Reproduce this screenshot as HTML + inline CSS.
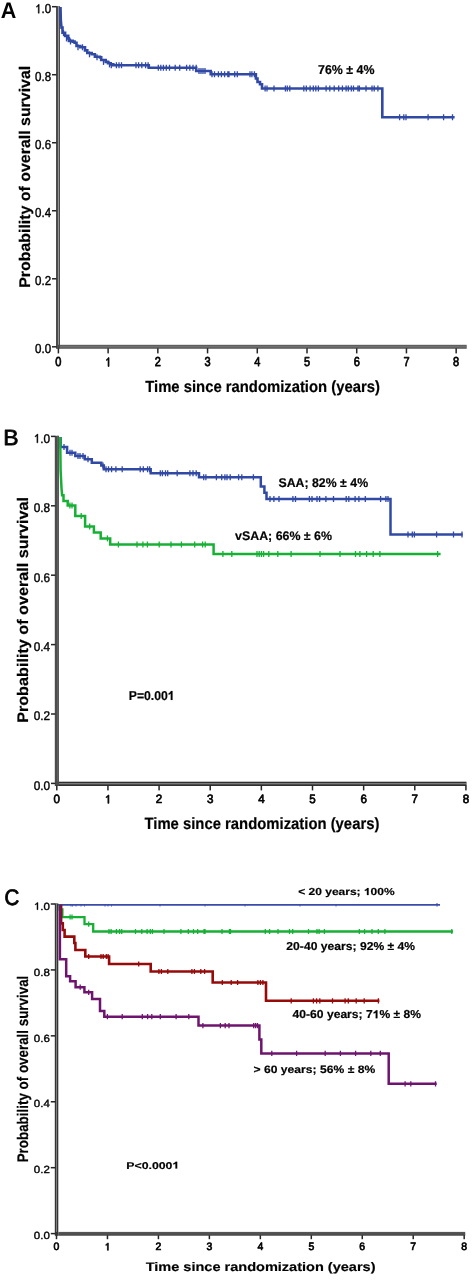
<!DOCTYPE html>
<html><head><meta charset="utf-8"><style>
html,body{margin:0;padding:0;background:#fff;}
svg{display:block;filter:blur(0.3px);}
text{font-family:"Liberation Sans",sans-serif;font-size:100px;text-rendering:geometricPrecision;}
</style></head><body>
<svg width="473" height="1280" viewBox="0 0 473 1280">
<rect width="473" height="1280" fill="#fff"/>
<rect x="56.00" y="6.10" width="4.00" height="342.70" fill="#4c4c4c"/>
<rect x="58.00" y="6.10" width="0.95" height="338.70" fill="#989898"/>
<rect x="60.00" y="344.80" width="406.70" height="4.00" fill="#5e5e5e"/>
<rect x="60.00" y="346.30" width="406.70" height="0.90" fill="#7a7a7a"/>
<rect x="52.00" y="346.05" width="4.60" height="1.5" fill="#252525"/>
<rect x="52.00" y="278.03" width="4.60" height="1.5" fill="#252525"/>
<rect x="52.00" y="210.01" width="4.60" height="1.5" fill="#252525"/>
<rect x="52.00" y="141.99" width="4.60" height="1.5" fill="#252525"/>
<rect x="52.00" y="73.97" width="4.60" height="1.5" fill="#252525"/>
<rect x="52.00" y="5.95" width="4.60" height="1.5" fill="#252525"/>
<rect x="57.65" y="348.20" width="1.5" height="5.20" fill="#252525"/>
<rect x="107.37" y="348.20" width="1.5" height="5.20" fill="#252525"/>
<rect x="157.09" y="348.20" width="1.5" height="5.20" fill="#252525"/>
<rect x="206.81" y="348.20" width="1.5" height="5.20" fill="#252525"/>
<rect x="256.53" y="348.20" width="1.5" height="5.20" fill="#252525"/>
<rect x="306.25" y="348.20" width="1.5" height="5.20" fill="#252525"/>
<rect x="355.97" y="348.20" width="1.5" height="5.20" fill="#252525"/>
<rect x="405.69" y="348.20" width="1.5" height="5.20" fill="#252525"/>
<rect x="455.41" y="348.20" width="1.5" height="5.20" fill="#252525"/>
<rect x="54.80" y="435.80" width="4.20" height="350.20" fill="#4c4c4c"/>
<rect x="57.00" y="435.80" width="1.60" height="345.90" fill="#606060"/>
<rect x="59.00" y="781.70" width="407.50" height="4.30" fill="#303030"/>
<rect x="59.00" y="783.30" width="407.50" height="0.95" fill="#9c9c9c"/>
<rect x="51.00" y="782.65" width="4.40" height="1.5" fill="#252525"/>
<rect x="51.00" y="713.25" width="4.40" height="1.5" fill="#252525"/>
<rect x="51.00" y="643.85" width="4.40" height="1.5" fill="#252525"/>
<rect x="51.00" y="574.45" width="4.40" height="1.5" fill="#252525"/>
<rect x="51.00" y="505.05" width="4.40" height="1.5" fill="#252525"/>
<rect x="51.00" y="435.65" width="4.40" height="1.5" fill="#252525"/>
<rect x="56.05" y="785.40" width="1.5" height="5.00" fill="#252525"/>
<rect x="107.19" y="785.40" width="1.5" height="5.00" fill="#252525"/>
<rect x="158.33" y="785.40" width="1.5" height="5.00" fill="#252525"/>
<rect x="209.47" y="785.40" width="1.5" height="5.00" fill="#252525"/>
<rect x="260.61" y="785.40" width="1.5" height="5.00" fill="#252525"/>
<rect x="311.75" y="785.40" width="1.5" height="5.00" fill="#252525"/>
<rect x="362.89" y="785.40" width="1.5" height="5.00" fill="#252525"/>
<rect x="414.03" y="785.40" width="1.5" height="5.00" fill="#252525"/>
<rect x="465.17" y="785.40" width="1.5" height="5.00" fill="#252525"/>
<rect x="54.80" y="903.40" width="3.50" height="332.40" fill="#353535"/>
<rect x="56.15" y="903.40" width="0.85" height="328.50" fill="#8c8c8c"/>
<rect x="58.30" y="1231.90" width="406.90" height="3.90" fill="#555555"/>
<rect x="58.30" y="1233.60" width="406.90" height="1.00" fill="#4a4a4a"/>
<rect x="50.80" y="1232.85" width="4.60" height="1.5" fill="#252525"/>
<rect x="50.80" y="1166.93" width="4.60" height="1.5" fill="#252525"/>
<rect x="50.80" y="1101.01" width="4.60" height="1.5" fill="#252525"/>
<rect x="50.80" y="1035.09" width="4.60" height="1.5" fill="#252525"/>
<rect x="50.80" y="969.17" width="4.60" height="1.5" fill="#252525"/>
<rect x="50.80" y="903.25" width="4.60" height="1.5" fill="#252525"/>
<rect x="55.75" y="1235.20" width="1.5" height="4.00" fill="#252525"/>
<rect x="106.71" y="1235.20" width="1.5" height="4.00" fill="#252525"/>
<rect x="157.67" y="1235.20" width="1.5" height="4.00" fill="#252525"/>
<rect x="208.63" y="1235.20" width="1.5" height="4.00" fill="#252525"/>
<rect x="259.59" y="1235.20" width="1.5" height="4.00" fill="#252525"/>
<rect x="310.55" y="1235.20" width="1.5" height="4.00" fill="#252525"/>
<rect x="361.51" y="1235.20" width="1.5" height="4.00" fill="#252525"/>
<rect x="412.47" y="1235.20" width="1.5" height="4.00" fill="#252525"/>
<rect x="463.43" y="1235.20" width="1.5" height="4.00" fill="#252525"/>
<path d="M60.5 7 L60.8 20 L61.5 27.6 H62.5 V32.7 H65.1 V35.9 H68.2 V38.4 H68.9 V40.9 H72.7 V41.6 H74.6 V42.8 H76.5 V46 H80.3 V47.3 H85 V50.4 H87.3 V53 H91.7 V54.3 H94.9 V56.8 H100 V57.4 H101.2 V60 H105.7 V61.9 H108 V63.2 H110.7 V64.4 H113.3 V65.3 H148.8 V67.7 H196.2 V71 H210.7 V74.3 H255.9 V78.5 H257.5 V82 H260 V84.3 H262 V88.5 H382.3 V117.3 H454.6" fill="none" stroke="#3049a5" stroke-width="2.6" stroke-linejoin="miter" stroke-linecap="butt"/>
<path d="M63.5 30.0V36.0" stroke="#3049a5" stroke-width="1.3" fill="none"/>
<path d="M66.5 35.4V41.4" stroke="#3049a5" stroke-width="1.3" fill="none"/>
<path d="M70.5 38.5V44.5" stroke="#3049a5" stroke-width="1.3" fill="none"/>
<path d="M78.0 44.3V50.3M82.5 44.3V50.3" stroke="#3049a5" stroke-width="1.3" fill="none"/>
<path d="M89.5 51.3V57.3" stroke="#3049a5" stroke-width="1.3" fill="none"/>
<path d="M97.0 54.2V60.2" stroke="#3049a5" stroke-width="1.3" fill="none"/>
<path d="M103.5 58.9V64.9" stroke="#3049a5" stroke-width="1.3" fill="none"/>
<path d="M109.5 61.4V67.4" stroke="#3049a5" stroke-width="1.3" fill="none"/>
<path d="M111.3 62.3V68.3M116.4 62.3V68.3M119.0 62.3V68.3M121.5 62.3V68.3M136.0 62.3V68.3M138.6 62.3V68.3M141.8 62.3V68.3M145.6 62.3V68.3M148.1 62.3V68.3" stroke="#3049a5" stroke-width="1.3" fill="none"/>
<path d="M158.3 64.7V70.7M160.8 64.7V70.7M163.4 64.7V70.7M166.3 64.7V70.7M169.5 64.7V70.7M175.2 64.7V70.7M179.7 64.7V70.7M186.6 64.7V70.7M189.8 64.7V70.7M193.0 64.7V70.7M196.2 64.7V70.7" stroke="#3049a5" stroke-width="1.3" fill="none"/>
<path d="M199.0 68.0V74.0M201.0 68.0V74.0M203.0 68.0V74.0M205.0 68.0V74.0" stroke="#3049a5" stroke-width="1.3" fill="none"/>
<path d="M212.0 71.3V77.3M214.5 71.3V77.3M218.4 71.3V77.3M221.4 71.3V77.3M224.6 71.3V77.3M227.8 71.3V77.3M229.0 71.3V77.3M234.7 71.3V77.3M237.3 71.3V77.3M250.0 71.3V77.3M251.9 71.3V77.3M254.4 71.3V77.3" stroke="#3049a5" stroke-width="1.3" fill="none"/>
<path d="M265.1 85.5V91.5M267.0 85.5V91.5M274.0 85.5V91.5M285.4 85.5V91.5M287.3 85.5V91.5M289.8 85.5V91.5M303.8 85.5V91.5M306.3 85.5V91.5M310.1 85.5V91.5M313.3 85.5V91.5M315.8 85.5V91.5M318.4 85.5V91.5M326.1 85.5V91.5M329.8 85.5V91.5M334.2 85.5V91.5M338.7 85.5V91.5M342.4 85.5V91.5M346.1 85.5V91.5M348.3 85.5V91.5M351.3 85.5V91.5M353.5 85.5V91.5M357.9 85.5V91.5M359.4 85.5V91.5M366.0 85.5V91.5M372.0 85.5V91.5M374.2 85.5V91.5M377.9 85.5V91.5" stroke="#3049a5" stroke-width="1.3" fill="none"/>
<path d="M399.6 114.3V120.3M403.8 114.3V120.3M406.0 114.3V120.3M428.1 114.3V120.3M443.6 114.3V120.3M452.5 114.3V120.3" stroke="#3049a5" stroke-width="1.3" fill="none"/>
<path d="M60.6 437 V447.1 H67.1 V452.8 H75.3 V456 H84.8 V459.2 H91.8 V462.7 H101.3 V465.5 H103.8 V469.2 H150.7 V473.3 H199 V477.3 H260.8 V486.4 H264.4 V492.8 H266.5 V499 H390.5 V534.4 H462.6" fill="none" stroke="#3049a5" stroke-width="2.5" stroke-linejoin="miter" stroke-linecap="butt"/>
<path d="M64.0 444.1V450.1" stroke="#3049a5" stroke-width="1.3" fill="none"/>
<path d="M70.0 449.8V455.8M72.0 449.8V455.8" stroke="#3049a5" stroke-width="1.3" fill="none"/>
<path d="M78.0 453.0V459.0M80.0 453.0V459.0M83.0 453.0V459.0" stroke="#3049a5" stroke-width="1.3" fill="none"/>
<path d="M88.0 456.2V462.2" stroke="#3049a5" stroke-width="1.3" fill="none"/>
<path d="M103.0 462.5V468.5" stroke="#3049a5" stroke-width="1.3" fill="none"/>
<path d="M106.0 466.2V472.2M108.5 466.2V472.2M111.6 466.2V472.2M115.9 466.2V472.2M122.2 466.2V472.2M140.2 466.2V472.2M143.3 466.2V472.2M147.6 466.2V472.2M149.7 466.2V472.2" stroke="#3049a5" stroke-width="1.3" fill="none"/>
<path d="M160.3 470.3V476.3M162.4 470.3V476.3M165.5 470.3V476.3M167.7 470.3V476.3M177.2 470.3V476.3M189.9 470.3V476.3M193.0 470.3V476.3M196.2 470.3V476.3" stroke="#3049a5" stroke-width="1.3" fill="none"/>
<path d="M203.7 474.3V480.3M205.9 474.3V480.3M216.4 474.3V480.3M221.7 474.3V480.3M224.9 474.3V480.3M227.0 474.3V480.3M230.2 474.3V480.3M238.6 474.3V480.3M241.8 474.3V480.3M253.4 474.3V480.3" stroke="#3049a5" stroke-width="1.3" fill="none"/>
<path d="M270.0 496.0V502.0M273.9 496.0V502.0M279.0 496.0V502.0M292.9 496.0V502.0M295.5 496.0V502.0M309.4 496.0V502.0M312.0 496.0V502.0M317.0 496.0V502.0M319.6 496.0V502.0M325.9 496.0V502.0M333.5 496.0V502.0M346.2 496.0V502.0M348.8 496.0V502.0M355.1 496.0V502.0M358.9 496.0V502.0M365.3 496.0V502.0M380.6 496.0V502.0M385.9 496.0V502.0M388.0 496.0V502.0" stroke="#3049a5" stroke-width="1.3" fill="none"/>
<path d="M408.0 531.4V537.4M412.3 531.4V537.4M414.4 531.4V537.4M436.6 531.4V537.4M453.5 531.4V537.4M462.0 531.4V537.4" stroke="#3049a5" stroke-width="1.3" fill="none"/>
<path d="M60.2 437 L60.6 470 L61.5 488 L62.1 495.2 H63.5 V501.1 H67.7 V505.4 H75.3 V515.9 H85.1 V526.5 H93.9 V532.4 H100.7 V538.4 H110.2 V544.4 H213.6 V553.9 H440.6" fill="none" stroke="#16b034" stroke-width="2.5" stroke-linejoin="miter" stroke-linecap="butt"/>
<path d="M69.9 502.4V508.4M72.0 502.4V508.4" stroke="#16b034" stroke-width="1.3" fill="none"/>
<path d="M81.2 512.9V518.9" stroke="#16b034" stroke-width="1.3" fill="none"/>
<path d="M89.7 523.5V529.5" stroke="#16b034" stroke-width="1.3" fill="none"/>
<path d="M107.4 535.4V541.4" stroke="#16b034" stroke-width="1.3" fill="none"/>
<path d="M118.4 541.4V547.4M137.0 541.4V547.4M142.9 541.4V547.4M147.4 541.4V547.4M159.2 541.4V547.4M171.0 541.4V547.4M181.4 541.4V547.4M194.7 541.4V547.4M202.6 541.4V547.4M205.2 541.4V547.4" stroke="#16b034" stroke-width="1.3" fill="none"/>
<path d="M222.9 550.9V556.9M231.8 550.9V556.9M257.0 550.9V556.9M259.2 550.9V556.9M261.4 550.9V556.9M263.6 550.9V556.9M268.8 550.9V556.9M277.8 550.9V556.9M291.1 550.9V556.9M320.0 550.9V556.9M340.0 550.9V556.9M355.5 550.9V556.9M359.9 550.9V556.9M366.6 550.9V556.9M373.2 550.9V556.9M379.9 550.9V556.9M437.6 550.9V556.9" stroke="#16b034" stroke-width="1.3" fill="none"/>
<path d="M58 904.8 H440" fill="none" stroke="#3a4cab" stroke-width="1.8" stroke-linejoin="miter" stroke-linecap="butt"/>
<path d="M71.0 904.6V906.6M72.6 904.6V906.6M76.0 904.6V906.6M81.0 904.6V906.6M84.5 904.6V906.6M105.0 904.6V906.6M108.0 904.6V906.6M111.5 904.6V906.6M160.0 904.6V906.6M205.0 904.6V906.6M245.0 904.6V906.6M300.0 904.6V906.6M336.0 904.6V906.6" stroke="#3a4cab" stroke-width="0.8" fill="none"/>
<path d="M437.0 903.0V906.6" stroke="#3a4cab" stroke-width="1" fill="none"/>
<path d="M59.5 904.8 V909.5 H62.4 V917.1 H84.5 V924.1 H93.2 V931.5 H453" fill="none" stroke="#16b034" stroke-width="2.3" stroke-linejoin="miter" stroke-linecap="butt"/>
<path d="M70.1 914.4V919.6M72.0 914.4V919.6" stroke="#16b034" stroke-width="1.3" fill="none"/>
<path d="M88.7 921.5V926.7" stroke="#16b034" stroke-width="1.3" fill="none"/>
<path d="M109.0 928.9V934.1M111.1 928.9V934.1M116.4 928.9V934.1M119.6 928.9V934.1M121.7 928.9V934.1M135.5 928.9V934.1M141.8 928.9V934.1M147.1 928.9V934.1M150.3 928.9V934.1M152.4 928.9V934.1M164.0 928.9V934.1M180.9 928.9V934.1M188.3 928.9V934.1M193.5 928.9V934.1M197.7 928.9V934.1M204.0 928.9V934.1M205.0 928.9V934.1M222.0 928.9V934.1M229.4 928.9V934.1M230.5 928.9V934.1M265.3 928.9V934.1M269.6 928.9V934.1M278.0 928.9V934.1M289.5 928.9V934.1M292.7 928.9V934.1M308.5 928.9V934.1M317.0 928.9V934.1M319.1 928.9V934.1M324.4 928.9V934.1M359.3 928.9V934.1M364.6 928.9V934.1M372.0 928.9V934.1M378.3 928.9V934.1M384.9 928.9V934.1M451.8 928.9V934.1" stroke="#16b034" stroke-width="1.3" fill="none"/>
<path d="M61.1 904.8 V923.4 H62.8 V930 H64.6 V936.6 H74.3 V943 H75.4 V950 H85.3 V956.5 H109.1 V964 H150.7 V971.5 H212.7 V982.5 H266 V1000.8 H379.4" fill="none" stroke="#960a0a" stroke-width="2.6" stroke-linejoin="miter" stroke-linecap="butt"/>
<path d="M88.7 953.9V959.1M101.0 953.9V959.1M103.2 953.9V959.1M106.3 953.9V959.1M108.1 953.9V959.1" stroke="#960a0a" stroke-width="1.3" fill="none"/>
<path d="M138.7 961.4V966.6" stroke="#960a0a" stroke-width="1.3" fill="none"/>
<path d="M158.9 968.9V974.1M161.4 968.9V974.1M167.8 968.9V974.1M191.9 968.9V974.1M194.4 968.9V974.1M200.8 968.9V974.1M204.6 968.9V974.1" stroke="#960a0a" stroke-width="1.3" fill="none"/>
<path d="M222.3 979.9V985.1M231.2 979.9V985.1M237.6 979.9V985.1M257.9 979.9V985.1M260.4 979.9V985.1M262.9 979.9V985.1" stroke="#960a0a" stroke-width="1.3" fill="none"/>
<path d="M291.2 998.2V1003.4M313.4 998.2V1003.4M316.6 998.2V1003.4M319.8 998.2V1003.4M332.5 998.2V1003.4M345.1 998.2V1003.4M348.3 998.2V1003.4M356.2 998.2V1003.4M364.2 998.2V1003.4M378.4 998.2V1003.4" stroke="#960a0a" stroke-width="1.3" fill="none"/>
<path d="M59.9 904.8 V959.3 H66.2 V976.2 H70.1 V981.3 H75.6 V987.2 H84.4 V992.3 H92.1 V999 H100 V1010.9 H104.3 V1016.7 H198.5 V1025.6 H259.4 V1039.5 H261.3 V1053.4 H388.7 V1083.8 H436.7" fill="none" stroke="#6e146e" stroke-width="2.5" stroke-linejoin="miter" stroke-linecap="butt"/>
<path d="M80.2 984.6V989.8" stroke="#6e146e" stroke-width="1.3" fill="none"/>
<path d="M88.7 989.7V994.9" stroke="#6e146e" stroke-width="1.3" fill="none"/>
<path d="M107.4 1014.1V1019.3M122.2 1014.1V1019.3M142.3 1014.1V1019.3M147.6 1014.1V1019.3M151.8 1014.1V1019.3M160.3 1014.1V1019.3M176.1 1014.1V1019.3M188.8 1014.1V1019.3" stroke="#6e146e" stroke-width="1.3" fill="none"/>
<path d="M202.9 1023.0V1028.2M220.4 1023.0V1028.2M225.2 1023.0V1028.2M229.0 1023.0V1028.2M253.7 1023.0V1028.2M255.6 1023.0V1028.2M257.5 1023.0V1028.2" stroke="#6e146e" stroke-width="1.3" fill="none"/>
<path d="M271.8 1050.8V1056.0M296.6 1050.8V1056.0M325.2 1050.8V1056.0M340.4 1050.8V1056.0M355.6 1050.8V1056.0M370.8 1050.8V1056.0M380.3 1050.8V1056.0" stroke="#6e146e" stroke-width="1.3" fill="none"/>
<path d="M405.1 1081.2V1086.4M410.8 1081.2V1086.4M435.5 1081.2V1086.4" stroke="#6e146e" stroke-width="1.3" fill="none"/>
<g style="opacity:0.995">
<g transform="translate(0.87,17.80) scale(0.2162,0.2257)"><text x="0" y="0" font-weight="bold" fill="#000">A</text></g>
<text x="0" y="0" transform="translate(29.70,287.86) rotate(-90) scale(0.1592,0.1543)" font-weight="bold" fill="#000" stroke="#000" stroke-width="1.28">Probability of overall survival</text>
<g transform="translate(145.25,391.60) scale(0.1483,0.1614)"><text x="0" y="0" font-weight="bold" fill="#000" stroke="#000" stroke-width="1.29" stroke-linejoin="round">Time since randomization (years)</text></g>
<g transform="translate(3.36,445.10) scale(0.2296,0.2188)"><text x="0" y="0" font-weight="normal" fill="#000" stroke="#000" stroke-width="3.57" stroke-linejoin="round">B</text></g>
<text x="0" y="0" transform="translate(28.30,722.87) rotate(-90) scale(0.1619,0.1529)" font-weight="bold" fill="#000" stroke="#000" stroke-width="1.27">Probability of overall survival</text>
<g transform="translate(144.45,828.60) scale(0.1485,0.1629)"><text x="0" y="0" font-weight="bold" fill="#000" stroke="#000" stroke-width="1.28" stroke-linejoin="round">Time since randomization (years)</text></g>
<g transform="translate(4.48,905.10) scale(0.2047,0.2232)"><text x="0" y="0" font-weight="normal" fill="#000" stroke="#000" stroke-width="3.74" stroke-linejoin="round">C</text></g>
<text x="0" y="0" transform="translate(28.30,1162.30) rotate(-90) scale(0.1338,0.1529)" font-weight="bold" fill="#000" stroke="#000" stroke-width="1.40">Probability of overall survival</text>
<g transform="translate(145.65,1270.80) scale(0.1453,0.1243)"><text x="0" y="0" font-weight="bold" fill="#000" stroke="#000" stroke-width="1.48" stroke-linejoin="round">Time since randomization (years)</text></g>
<g transform="translate(318.00,74.30) scale(0.1242,0.1286)"><text x="0" y="0" font-weight="bold" fill="#000" stroke="#000" stroke-width="1.58" stroke-linejoin="round">76% ± 4%</text></g>
<g transform="translate(278.45,486.60) scale(0.1233,0.1271)"><text x="0" y="0" font-weight="bold" fill="#000" stroke="#000" stroke-width="1.60" stroke-linejoin="round">SAA; 82% ± 4%</text></g>
<g transform="translate(235.10,540.20) scale(0.1237,0.1243)"><text x="0" y="0" font-weight="bold" fill="#000" stroke="#000" stroke-width="1.61" stroke-linejoin="round">vSAA; 66% ± 6%</text></g>
<g transform="translate(128.87,699.90) scale(0.1216,0.1286)"><text x="0" y="0" font-weight="bold" fill="#000" stroke="#000" stroke-width="1.60" stroke-linejoin="round">P=0.00 </text><path d="M344.63 0.00 L344.63 -48.83 L340.23 -45.65 L333.89 -42.72 L327.05 -40.53 L327.05 -52.25 L334.86 -55.91 L340.72 -60.55 L344.14 -64.94 L346.09 -68.80 L358.79 -68.80 L358.79 0.00Z" fill="#000" stroke="#000" stroke-width="1.60" stroke-linejoin="round"/></g>
<g transform="translate(298.22,895.10) scale(0.1200,0.1014)"><text x="0" y="0" font-weight="bold" fill="#000" stroke="#000" stroke-width="1.81" stroke-linejoin="round">&lt; 20 years;  00%</text><path d="M572.56 0.00 L572.56 -48.83 L568.16 -45.65 L561.82 -42.72 L554.98 -40.53 L554.98 -52.25 L562.79 -55.91 L568.65 -60.55 L572.07 -64.94 L574.02 -68.80 L586.72 -68.80 L586.72 0.00Z" fill="#000" stroke="#000" stroke-width="1.81" stroke-linejoin="round"/></g>
<g transform="translate(286.34,950.20) scale(0.1214,0.1143)"><text x="0" y="0" font-weight="bold" fill="#000" stroke="#000" stroke-width="1.70" stroke-linejoin="round">20-40 years; 92% ± 4%</text></g>
<g transform="translate(292.58,1018.30) scale(0.1211,0.1157)"><text x="0" y="0" font-weight="bold" fill="#000" stroke="#000" stroke-width="1.69" stroke-linejoin="round">40-60 years; 7 % ± 8%</text><path d="M686.52 0.00 L686.52 -48.83 L682.13 -45.65 L675.78 -42.72 L668.95 -40.53 L668.95 -52.25 L676.76 -55.91 L682.62 -60.55 L686.04 -64.94 L687.99 -68.80 L700.68 -68.80 L700.68 0.00Z" fill="#000" stroke="#000" stroke-width="1.69" stroke-linejoin="round"/></g>
<g transform="translate(253.51,1072.70) scale(0.1214,0.1071)"><text x="0" y="0" font-weight="bold" fill="#000" stroke="#000" stroke-width="1.75" stroke-linejoin="round">&gt; 60 years; 56% ± 8%</text></g>
<g transform="translate(126.26,1168.50) scale(0.1229,0.0986)"><text x="0" y="0" font-weight="bold" fill="#000" stroke="#000" stroke-width="1.81" stroke-linejoin="round">P&lt;0.000 </text><path d="M400.24 0.00 L400.24 -48.83 L395.85 -45.65 L389.50 -42.72 L382.67 -40.53 L382.67 -52.25 L390.48 -55.91 L396.34 -60.55 L399.76 -64.94 L401.71 -68.80 L414.40 -68.80 L414.40 0.00Z" fill="#000" stroke="#000" stroke-width="1.81" stroke-linejoin="round"/></g>
<g transform="translate(35.05,353.35) scale(0.1156,0.1300)"><text x="0" y="0" font-weight="normal" fill="#000" stroke="#000" stroke-width="3.26" stroke-linejoin="round">0.0</text></g>
<g transform="translate(35.05,285.33) scale(0.1156,0.1300)"><text x="0" y="0" font-weight="normal" fill="#000" stroke="#000" stroke-width="3.26" stroke-linejoin="round">0.2</text></g>
<g transform="translate(35.05,217.31) scale(0.1156,0.1300)"><text x="0" y="0" font-weight="normal" fill="#000" stroke="#000" stroke-width="3.26" stroke-linejoin="round">0.4</text></g>
<g transform="translate(35.05,149.29) scale(0.1156,0.1300)"><text x="0" y="0" font-weight="normal" fill="#000" stroke="#000" stroke-width="3.26" stroke-linejoin="round">0.6</text></g>
<g transform="translate(35.05,81.27) scale(0.1156,0.1300)"><text x="0" y="0" font-weight="normal" fill="#000" stroke="#000" stroke-width="3.26" stroke-linejoin="round">0.8</text></g>
<g transform="translate(35.05,13.25) scale(0.1156,0.1300)"><text x="0" y="0" font-weight="normal" fill="#000" stroke="#000" stroke-width="3.26" stroke-linejoin="round"> .0</text><path d="M27.34 0.00 L27.34 -54.69 L22.95 -51.27 L18.07 -48.58 L12.21 -46.14 L12.21 -54.20 L18.55 -57.62 L23.44 -61.52 L27.34 -65.67 L29.30 -68.80 L36.13 -68.80 L36.13 0.00Z" fill="#000" stroke="#000" stroke-width="3.26" stroke-linejoin="round"/></g>
<g transform="translate(55.34,366.45) scale(0.1102,0.1286)"><text x="0" y="0" font-weight="normal" fill="#000" stroke="#000" stroke-width="5.86" stroke-linejoin="round">0</text></g>
<g transform="translate(105.06,366.45) scale(0.1102,0.1286)"><path d="M27.34 0.00 L27.34 -54.69 L22.95 -51.27 L18.07 -48.58 L12.21 -46.14 L12.21 -54.20 L18.55 -57.62 L23.44 -61.52 L27.34 -65.67 L29.30 -68.80 L36.13 -68.80 L36.13 0.00Z" fill="#000" stroke="#000" stroke-width="5.86" stroke-linejoin="round"/></g>
<g transform="translate(154.78,366.45) scale(0.1102,0.1286)"><text x="0" y="0" font-weight="normal" fill="#000" stroke="#000" stroke-width="5.86" stroke-linejoin="round">2</text></g>
<g transform="translate(204.50,366.45) scale(0.1102,0.1286)"><text x="0" y="0" font-weight="normal" fill="#000" stroke="#000" stroke-width="5.86" stroke-linejoin="round">3</text></g>
<g transform="translate(254.22,366.45) scale(0.1102,0.1286)"><text x="0" y="0" font-weight="normal" fill="#000" stroke="#000" stroke-width="5.86" stroke-linejoin="round">4</text></g>
<g transform="translate(303.94,366.45) scale(0.1102,0.1286)"><text x="0" y="0" font-weight="normal" fill="#000" stroke="#000" stroke-width="5.86" stroke-linejoin="round">5</text></g>
<g transform="translate(353.66,366.45) scale(0.1102,0.1286)"><text x="0" y="0" font-weight="normal" fill="#000" stroke="#000" stroke-width="5.86" stroke-linejoin="round">6</text></g>
<g transform="translate(403.38,366.45) scale(0.1102,0.1286)"><text x="0" y="0" font-weight="normal" fill="#000" stroke="#000" stroke-width="5.86" stroke-linejoin="round">7</text></g>
<g transform="translate(453.10,366.45) scale(0.1102,0.1286)"><text x="0" y="0" font-weight="normal" fill="#000" stroke="#000" stroke-width="5.86" stroke-linejoin="round">8</text></g>
<g transform="translate(33.65,789.85) scale(0.1178,0.1271)"><text x="0" y="0" font-weight="normal" fill="#000" stroke="#000" stroke-width="3.27" stroke-linejoin="round">0.0</text></g>
<g transform="translate(33.65,720.45) scale(0.1178,0.1271)"><text x="0" y="0" font-weight="normal" fill="#000" stroke="#000" stroke-width="3.27" stroke-linejoin="round">0.2</text></g>
<g transform="translate(33.65,651.05) scale(0.1178,0.1271)"><text x="0" y="0" font-weight="normal" fill="#000" stroke="#000" stroke-width="3.27" stroke-linejoin="round">0.4</text></g>
<g transform="translate(33.65,581.65) scale(0.1178,0.1271)"><text x="0" y="0" font-weight="normal" fill="#000" stroke="#000" stroke-width="3.27" stroke-linejoin="round">0.6</text></g>
<g transform="translate(33.65,512.25) scale(0.1178,0.1271)"><text x="0" y="0" font-weight="normal" fill="#000" stroke="#000" stroke-width="3.27" stroke-linejoin="round">0.8</text></g>
<g transform="translate(33.65,442.85) scale(0.1178,0.1271)"><text x="0" y="0" font-weight="normal" fill="#000" stroke="#000" stroke-width="3.27" stroke-linejoin="round"> .0</text><path d="M27.34 0.00 L27.34 -54.69 L22.95 -51.27 L18.07 -48.58 L12.21 -46.14 L12.21 -54.20 L18.55 -57.62 L23.44 -61.52 L27.34 -65.67 L29.30 -68.80 L36.13 -68.80 L36.13 0.00Z" fill="#000" stroke="#000" stroke-width="3.27" stroke-linejoin="round"/></g>
<g transform="translate(53.57,803.35) scale(0.1163,0.1214)"><text x="0" y="0" font-weight="normal" fill="#000" stroke="#000" stroke-width="5.89" stroke-linejoin="round">0</text></g>
<g transform="translate(104.71,803.35) scale(0.1163,0.1214)"><path d="M27.34 0.00 L27.34 -54.69 L22.95 -51.27 L18.07 -48.58 L12.21 -46.14 L12.21 -54.20 L18.55 -57.62 L23.44 -61.52 L27.34 -65.67 L29.30 -68.80 L36.13 -68.80 L36.13 0.00Z" fill="#000" stroke="#000" stroke-width="5.89" stroke-linejoin="round"/></g>
<g transform="translate(155.85,803.35) scale(0.1163,0.1214)"><text x="0" y="0" font-weight="normal" fill="#000" stroke="#000" stroke-width="5.89" stroke-linejoin="round">2</text></g>
<g transform="translate(206.99,803.35) scale(0.1163,0.1214)"><text x="0" y="0" font-weight="normal" fill="#000" stroke="#000" stroke-width="5.89" stroke-linejoin="round">3</text></g>
<g transform="translate(258.13,803.35) scale(0.1163,0.1214)"><text x="0" y="0" font-weight="normal" fill="#000" stroke="#000" stroke-width="5.89" stroke-linejoin="round">4</text></g>
<g transform="translate(309.27,803.35) scale(0.1163,0.1214)"><text x="0" y="0" font-weight="normal" fill="#000" stroke="#000" stroke-width="5.89" stroke-linejoin="round">5</text></g>
<g transform="translate(360.41,803.35) scale(0.1163,0.1214)"><text x="0" y="0" font-weight="normal" fill="#000" stroke="#000" stroke-width="5.89" stroke-linejoin="round">6</text></g>
<g transform="translate(411.55,803.35) scale(0.1163,0.1214)"><text x="0" y="0" font-weight="normal" fill="#000" stroke="#000" stroke-width="5.89" stroke-linejoin="round">7</text></g>
<g transform="translate(462.69,803.35) scale(0.1163,0.1214)"><text x="0" y="0" font-weight="normal" fill="#000" stroke="#000" stroke-width="5.89" stroke-linejoin="round">8</text></g>
<g transform="translate(33.80,1239.30) scale(0.1156,0.1043)"><text x="0" y="0" font-weight="normal" fill="#000" stroke="#000" stroke-width="3.64" stroke-linejoin="round">0.0</text></g>
<g transform="translate(33.80,1173.38) scale(0.1156,0.1043)"><text x="0" y="0" font-weight="normal" fill="#000" stroke="#000" stroke-width="3.64" stroke-linejoin="round">0.2</text></g>
<g transform="translate(33.80,1107.46) scale(0.1156,0.1043)"><text x="0" y="0" font-weight="normal" fill="#000" stroke="#000" stroke-width="3.64" stroke-linejoin="round">0.4</text></g>
<g transform="translate(33.80,1041.54) scale(0.1156,0.1043)"><text x="0" y="0" font-weight="normal" fill="#000" stroke="#000" stroke-width="3.64" stroke-linejoin="round">0.6</text></g>
<g transform="translate(33.80,975.62) scale(0.1156,0.1043)"><text x="0" y="0" font-weight="normal" fill="#000" stroke="#000" stroke-width="3.64" stroke-linejoin="round">0.8</text></g>
<g transform="translate(33.80,909.70) scale(0.1156,0.1043)"><text x="0" y="0" font-weight="normal" fill="#000" stroke="#000" stroke-width="3.64" stroke-linejoin="round"> .0</text><path d="M27.34 0.00 L27.34 -54.69 L22.95 -51.27 L18.07 -48.58 L12.21 -46.14 L12.21 -54.20 L18.55 -57.62 L23.44 -61.52 L27.34 -65.67 L29.30 -68.80 L36.13 -68.80 L36.13 0.00Z" fill="#000" stroke="#000" stroke-width="3.64" stroke-linejoin="round"/></g>
<g transform="translate(53.61,1250.35) scale(0.1041,0.1071)"><text x="0" y="0" font-weight="normal" fill="#000" stroke="#000" stroke-width="6.63" stroke-linejoin="round">0</text></g>
<g transform="translate(104.57,1250.35) scale(0.1041,0.1071)"><path d="M27.34 0.00 L27.34 -54.69 L22.95 -51.27 L18.07 -48.58 L12.21 -46.14 L12.21 -54.20 L18.55 -57.62 L23.44 -61.52 L27.34 -65.67 L29.30 -68.80 L36.13 -68.80 L36.13 0.00Z" fill="#000" stroke="#000" stroke-width="6.63" stroke-linejoin="round"/></g>
<g transform="translate(155.53,1250.35) scale(0.1041,0.1071)"><text x="0" y="0" font-weight="normal" fill="#000" stroke="#000" stroke-width="6.63" stroke-linejoin="round">2</text></g>
<g transform="translate(206.49,1250.35) scale(0.1041,0.1071)"><text x="0" y="0" font-weight="normal" fill="#000" stroke="#000" stroke-width="6.63" stroke-linejoin="round">3</text></g>
<g transform="translate(257.45,1250.35) scale(0.1041,0.1071)"><text x="0" y="0" font-weight="normal" fill="#000" stroke="#000" stroke-width="6.63" stroke-linejoin="round">4</text></g>
<g transform="translate(308.41,1250.35) scale(0.1041,0.1071)"><text x="0" y="0" font-weight="normal" fill="#000" stroke="#000" stroke-width="6.63" stroke-linejoin="round">5</text></g>
<g transform="translate(359.37,1250.35) scale(0.1041,0.1071)"><text x="0" y="0" font-weight="normal" fill="#000" stroke="#000" stroke-width="6.63" stroke-linejoin="round">6</text></g>
<g transform="translate(410.33,1250.35) scale(0.1041,0.1071)"><text x="0" y="0" font-weight="normal" fill="#000" stroke="#000" stroke-width="6.63" stroke-linejoin="round">7</text></g>
<g transform="translate(461.29,1250.35) scale(0.1041,0.1071)"><text x="0" y="0" font-weight="normal" fill="#000" stroke="#000" stroke-width="6.63" stroke-linejoin="round">8</text></g>
</g>
</svg>
</body></html>
